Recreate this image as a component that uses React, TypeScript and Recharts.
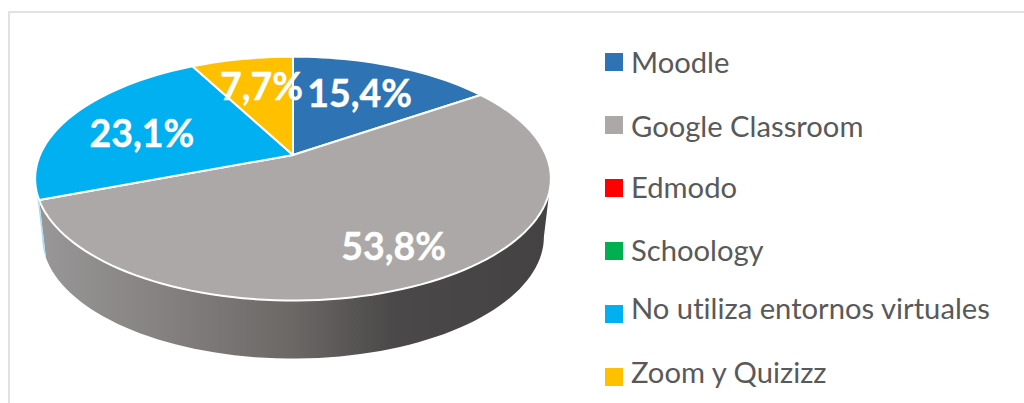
import React from 'react';
import { PieChart, Pie, Legend } from 'recharts';

const categories = ['Moodle', 'Google Classroom', 'Edmodo', 'Schoology', 'No utiliza entornos virtuales', 'Zoom y Quizizz'];
const shares = [15.4, 53.8, 0, 0, 23.1, 7.7];
const colors = ['#2e74b5', '#aba8a7', '#ff0000', '#00b050', '#00b0f0', '#ffc000'];

const pieData = categories.map((name, i) => ({ name, value: shares[i], fill: colors[i] }));

// perspective of the tilted disc
const TILT = 0.1934;
const SQUASH = 0.464;
const DEPTH = 58;
const BASE_SCALE = 0.973;
// wall only shows between the two tangent points of the rim
const WALL_FROM = 101.2;
const WALL_TO = 258.8;

const project = (cx: number, cy: number, r: number, deg: number, f = 1) => {
  const t = (deg * Math.PI) / 180;
  const d = 1 + TILT * f * Math.cos(t);
  return {
    x: cx + (r * f * Math.sin(t)) / d,
    y: cy - (r * SQUASH * f * Math.cos(t)) / d,
  };
};

const arcPoints = (from: number, to: number) => {
  const n = Math.max(2, Math.ceil((to - from) / 2));
  return Array.from({ length: n + 1 }, (_, i) => from + ((to - from) * i) / n);
};

const Slice3D = (props: any) => {
  const { cx, cy, outerRadius, startAngle, endAngle, fill, name } = props;
  if (Math.abs(endAngle - startAngle) < 0.01) return null;
  // recharts angles run counter-clockwise from 3 o'clock, the disc clockwise from 12
  const a0 = 90 - startAngle;
  const a1 = 90 - endAngle;
  const top = arcPoints(a0, a1).map((a) => project(cx, cy, outerRadius, a));
  const face = `M${cx},${cy} ` + top.map((p) => `L${p.x},${p.y}`).join(' ') + ' Z';

  const w0 = Math.max(a0, WALL_FROM);
  const w1 = Math.min(a1, WALL_TO);
  let wall = '';
  if (w1 > w0) {
    const upper = arcPoints(w0, w1).map((a) => project(cx, cy, outerRadius, a));
    const lower = [...upper].reverse().map((p) => ({ x: cx + (p.x - cx) * BASE_SCALE, y: p.y + DEPTH }));
    wall = [...upper, ...lower].map((p, i) => `${i ? 'L' : 'M'}${p.x},${p.y}`).join(' ') + ' Z';
  }
  const isFront = name === 'Google Classroom';
  return (
    <g>
      {wall && <path d={wall} fill={isFront ? 'url(#wallShade)' : '#a5def5'} stroke="none" />}
      <path d={face} fill={fill} stroke="#ffffff" strokeWidth={2} strokeLinejoin="round" />
    </g>
  );
};

// hand-moved labels in the original, offset per category
const labelDx = [-7, 7, 0, 0, 7, 6];
const labelDy = [2, 8, 0, 0, 5, 1];

const renderLabel = (props: any) => {
  const { cx, cy, outerRadius, midAngle, value, index } = props;
  if (!value) return null;
  const p = project(cx, cy, outerRadius, 90 - midAngle, 0.7);
  return (
    <text
      x={p.x + labelDx[index]}
      y={p.y + labelDy[index]}
      fill="#ffffff"
      stroke="#ffffff"
      strokeWidth={0.4}
      textAnchor="middle"
      dominantBaseline="central"
      fontFamily="Lato, sans-serif"
      fontWeight={700}
      fontSize={37.5}
    >
      {value.toFixed(1).replace('.', ',') + '%'}
    </text>
  );
};

// text baselines in the original legend are not evenly spaced
const legendSwatchY = [53, 116, 179, 242, 305, 368];
const legendTextY = [73, 137, 198, 261, 319, 383];

const renderLegend = () => (
  <svg width={1024} height={403} style={{ display: 'block' }}>
    {categories.map((name, i) => (
      <g key={name}>
        <rect x={605} y={legendSwatchY[i]} width={18} height={18} fill={colors[i]} />
        <text
          x={631}
          y={legendTextY[i]}
          fill="#595959"
          fontFamily="Lato, sans-serif"
          fontSize={29.2}
          style={{ fontVariantLigatures: 'none' }}
        >
          {name}
        </text>
      </g>
    ))}
  </svg>
);

export default function App() {
  return (
    <div style={{ position: 'absolute', left: 0, top: 0, width: 1024, height: 403, background: '#fff', overflow: 'hidden' }}>
      <div style={{ position: 'absolute', left: 8, top: 11, width: 1100, height: 500, border: '2px solid #e2e2e2' }} />
      <div style={{ position: 'absolute', left: 0, top: 0 }}>
        <PieChart width={1024} height={403} margin={{ top: 0, right: 0, bottom: 0, left: 0 }}>
          <defs>
            <linearGradient id="wallShade" gradientUnits="userSpaceOnUse" x1="44" y1="0" x2="545" y2="0">
              <stop offset="0%" stopColor="#989696" />
              <stop offset="25%" stopColor="#83807f" />
              <stop offset="50%" stopColor="#6a6765" />
              <stop offset="70%" stopColor="#4a4848" />
              <stop offset="100%" stopColor="#444242" />
            </linearGradient>
          </defs>
          <Pie
            data={pieData}
            dataKey="value"
            nameKey="name"
            cx={293}
            cy={155}
            innerRadius={0}
            outerRadius={253}
            startAngle={90}
            endAngle={-270}
            paddingAngle={0}
            shape={Slice3D}
            label={renderLabel}
            labelLine={false}
            isAnimationActive={false}
          />
          <Legend content={renderLegend} wrapperStyle={{ left: 0, top: 0, width: 1024, height: 403 }} />
        </PieChart>
      </div>
    </div>
  );
}
